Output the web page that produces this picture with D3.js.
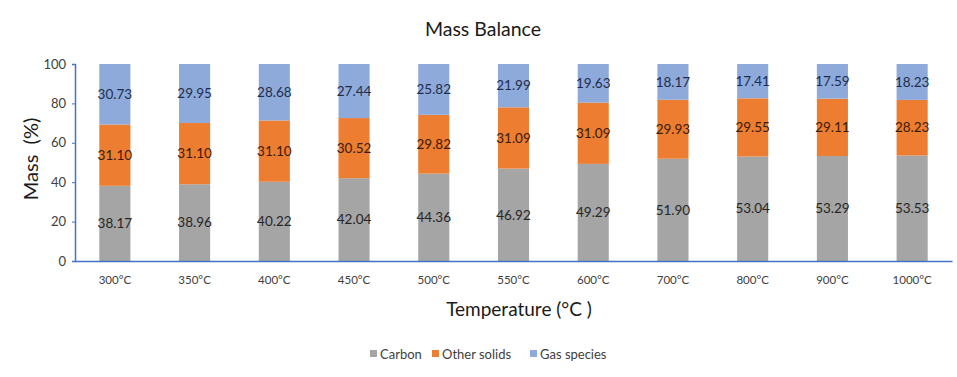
<!DOCTYPE html>
<html>
<head>
<meta charset="utf-8">
<script src="https://cdn.jsdelivr.net/npm/d3@7"></script>
<style>
  body { margin: 0; background: #fff; }
  svg { font-family: Lato, "Open Sans", sans-serif; }
</style>
</head>
<body>
<div id="chart"></div>
<script>
// Mass balance per pyrolysis temperature (stacked %)
const temps = ["300°C", "350°C", "400°C", "450°C", "500°C", "550°C", "600°C", "700°C", "800°C", "900°C", "1000°C"];
const carbon = [38.17, 38.96, 40.22, 42.04, 44.36, 46.92, 49.29, 51.90, 53.04, 53.29, 53.53];
const otherSolids = [31.10, 31.10, 31.10, 30.52, 29.82, 31.09, 31.09, 29.93, 29.55, 29.11, 28.23];
const gasSpecies = [30.73, 29.95, 28.68, 27.44, 25.82, 21.99, 19.63, 18.17, 17.41, 17.59, 18.23];
const seriesNames = ["Carbon", "Other solids", "Gas species"];
const yTicks = [0, 20, 40, 60, 80, 100];

const width = 957, height = 377;
const margin = { top: 64, right: 5, bottom: 116, left: 75 };

const colors = { "Carbon": "#a5a5a5", "Other solids": "#ed7d31", "Gas species": "#8eaadb" };
const labelColors = { "Carbon": "#262626", "Other solids": "#3a1a05", "Gas species": "#1f2d4d" };

const rows = temps.map((t, i) => ({
  temp: t,
  "Carbon": carbon[i],
  "Other solids": otherSolids[i],
  "Gas species": gasSpecies[i]
}));

const svg = d3.select("#chart")
  .append("svg")
  .attr("width", width)
  .attr("height", height);

const x = d3.scaleBand()
  .domain(temps)
  .range([margin.left, width - margin.right])
  .paddingInner(0.61)
  .paddingOuter(0.305);

const y = d3.scaleLinear()
  .domain([0, 100])
  .range([height - margin.bottom, margin.top]);

const stack = d3.stack().keys(seriesNames);
const layers = stack(rows);

// bars
const layerG = svg.selectAll("g.layer")
  .data(layers)
  .enter()
  .append("g")
  .attr("class", "layer")
  .attr("fill", d => colors[d.key]);

layerG.selectAll("rect")
  .data(d => d)
  .enter()
  .append("rect")
  .attr("x", d => x(d.data.temp))
  .attr("y", d => y(Math.min(d[1], 100)))
  .attr("width", x.bandwidth())
  .attr("height", d => y(d[0]) - y(Math.min(d[1], 100)));

// data labels
layers.forEach(layer => {
  svg.append("g")
    .selectAll("text")
    .data(layer)
    .enter()
    .append("text")
    .attr("x", d => x(d.data.temp) + x.bandwidth() / 2)
    .attr("y", d => y((d[0] + Math.min(d[1], 100)) / 2))
    .attr("dy", "0.35em")
    .attr("text-anchor", "middle")
    .style("font-size", "13.5px")
    .style("fill", labelColors[layer.key])
    .text(d => d.data[layer.key].toFixed(2));
});

// y axis
const yAxis = svg.append("g")
  .attr("transform", `translate(${margin.left},0)`)
  .call(d3.axisLeft(y).tickValues(yTicks).tickSize(3).tickPadding(6));
yAxis.select(".domain").attr("stroke", "#4472c4").attr("stroke-width", 1.5);
yAxis.selectAll(".tick line").attr("stroke", "#4472c4");
yAxis.selectAll("text").style("font-size", "13px").style("fill", "#404040")
  .style("font-family", "Lato, sans-serif");

// x axis
const xAxis = svg.append("g")
  .attr("transform", `translate(0,${height - margin.bottom})`)
  .call(d3.axisBottom(x).tickSize(0).tickPadding(15));
xAxis.select(".domain").attr("stroke", "#4472c4").attr("stroke-width", 1.5);
xAxis.selectAll("text").style("font-size", "11.5px").style("fill", "#404040")
  .style("font-family", "Lato, sans-serif");

// titles
svg.append("text")
  .attr("x", 483)
  .attr("y", 36)
  .attr("text-anchor", "middle")
  .style("font-size", "19.5px")
  .style("fill", "#1a1a1a")
  .text("Mass Balance");

svg.append("text")
  .attr("transform", "rotate(-90)")
  .attr("x", -159)
  .attr("y", 38)
  .attr("text-anchor", "middle")
  .style("font-size", "20px")
  .style("white-space", "pre")
  .style("fill", "#1a1a1a")
  .text("Mass  (%)");

svg.append("text")
  .attr("x", 519)
  .attr("y", 316)
  .attr("text-anchor", "middle")
  .style("font-size", "19px")
  .style("fill", "#1a1a1a")
  .text("Temperature (°C )");

// legend
const legendX = [370, 432, 530];
seriesNames.forEach((name, i) => {
  const g = svg.append("g").attr("transform", `translate(${legendX[i]},354)`);
  g.append("rect")
    .attr("x", 0)
    .attr("y", -4)
    .attr("width", 7)
    .attr("height", 7)
    .attr("fill", colors[name]);
  g.append("text")
    .attr("x", 10)
    .attr("y", 0)
    .attr("dy", "0.35em")
    .style("font-size", "13px")
    .style("fill", "#404040")
    .text(name);
});
</script>
</body>
</html>
